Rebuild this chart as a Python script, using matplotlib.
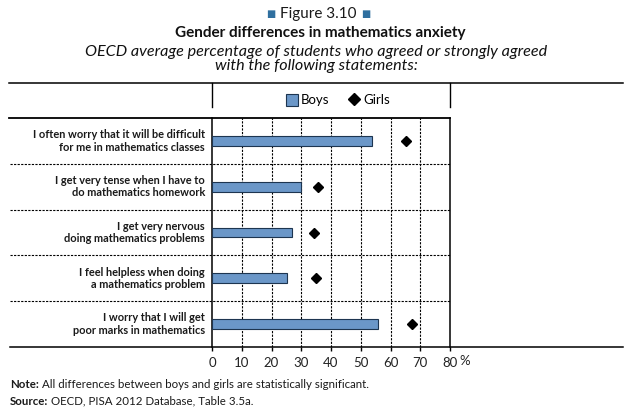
import numpy as np
from matplotlib import pyplot as plt
from matplotlib.lines import Line2D
from matplotlib.patches import Patch
from matplotlib.transforms import blended_transform_factory

plt.rcParams['font.family'] = ['Lato', 'DejaVu Sans']

barColor = "#6b97c8"
edgeColor = "#1d3550"
blueMark = "#2f6f9f"

statements = [
    "I often worry that it will be difficult\nfor me in mathematics classes",
    "I get very tense when I have to\ndo mathematics homework",
    "I get very nervous\ndoing mathematics problems",
    "I feel helpless when doing\na mathematics problem",
    "I worry that I will get\npoor marks in mathematics",
]
boys = [53.8, 29.9, 26.9, 25.2, 55.8]
girls = [65.3, 35.6, 34.3, 35.0, 67.2]
xticks = [0, 10, 20, 30, 40, 50, 60, 70, 80]

W, H = 641, 419
fig = plt.figure(figsize=(W/100, H/100), dpi=100)

def fx(px):
    return px / W

def fy(py):
    return 1 - py / H

ax = fig.add_axes([fx(212), fy(347), fx(450) - fx(212), fy(118) - fy(347)])
y = np.arange(len(statements))
ax.barh(y, boys, height=0.21, color=barColor, edgecolor=edgeColor, linewidth=0.8, zorder=3)
ax.plot(girls, y, linestyle='none', marker='D', markersize=5.5, color='black', zorder=4)

ax.set_xlim(0, 80)
ax.set_ylim(len(statements) - 0.5, -0.5)
ax.set_xticks(xticks)
ax.set_xticklabels([str(t) for t in xticks], fontsize=9.5, color='#222222')
ax.tick_params(axis='x', direction='out', length=3, width=1, pad=4)
ax.set_yticks([])
for t in xticks[1:-1]:
    ax.axvline(t, color='black', linestyle=(0, (2, 1.2)), linewidth=0.8, zorder=1)

for s in ['top', 'bottom']:
    ax.spines[s].set_visible(False)
ax.spines['left'].set_linewidth(1.1)
ax.spines['right'].set_linewidth(1.1)

# row labels (x in figure units, y in data units) and dashed separators
trans = blended_transform_factory(fig.transFigure, ax.transData)
for i, lab in zip(y, statements):
    fig.text(fx(205), i, lab, transform=trans, ha='right', va='center',
             fontsize=7.9, fontweight='bold', color='#1a1a1a', linespacing=1.15)

for k in range(1, len(statements)):
    fig.add_artist(Line2D([fx(10), fx(450)], [k - 0.5, k - 0.5], transform=trans,
                          color='black', linewidth=0.8, linestyle=(0, (2, 1.2))))

# frame lines
fig.add_artist(Line2D([fx(9), fx(623)], [fy(83), fy(83)], color='black', linewidth=1.1))
fig.add_artist(Line2D([fx(9), fx(450)], [fy(118), fy(118)], color='black', linewidth=1.3))
fig.add_artist(Line2D([fx(10), fx(623)], [fy(347), fy(347)], color='black', linewidth=1.1))
fig.add_artist(Line2D([fx(212), fx(212)], [fy(83), fy(107)], color='black', linewidth=1.0))
fig.add_artist(Line2D([fx(450), fx(450)], [fy(83), fy(107)], color='black', linewidth=1.0))

# legend
handles = [Patch(facecolor=barColor, edgecolor=edgeColor, linewidth=0.8, label='Boys'),
           Line2D([], [], linestyle='none', marker='D', markersize=6, color='black', label='Girls')]
fig.legend(handles=handles, loc='center', bbox_to_anchor=(fx(338), fy(100)), ncol=2,
           frameon=False, fontsize=9.5, handlelength=0.9, handletextpad=0.25,
           columnspacing=1.4, handleheight=1.0)

fig.text(fx(465), fy(361), "%", ha='center', va='center', fontsize=9.5, color='#222222')

# titles
fig.text(fx(318), fy(14), "Figure 3.10", ha='center', va='center', fontsize=11, color='#1a1a1a')
fig.text(fx(271), fy(14), "\u25a0", ha='center', va='center', fontsize=7, color=blueMark)
fig.text(fx(366), fy(14), "\u25a0", ha='center', va='center', fontsize=7, color=blueMark)
fig.text(fx(320), fy(33), "Gender differences in mathematics anxiety", ha='center', va='center',
         fontsize=11, fontweight='bold', color='#111111')
fig.text(fx(316), fy(59), "OECD average percentage of students who agreed or strongly agreed\nwith the following statements:",
         ha='center', va='center', fontsize=11.6, style='italic', color='#111111', linespacing=1.0)

# note and source: bold lead-in followed by regular text
fig.canvas.draw()
renderer = fig.canvas.get_renderer()
for py, head, body in [(384, "Note:", "All differences between boys and girls are statistically significant."),
                       (401, "Source:", "OECD, PISA 2012 Database, Table 3.5a.")]:
    h = fig.text(fx(10), fy(py), head, ha='left', va='center', fontsize=8.3,
                 fontweight='bold', color='#1a1a1a')
    bb = h.get_window_extent(renderer)
    fig.text(fx(bb.x1 + 3), fy(py), body, ha='left', va='center', fontsize=8.3, color='#1a1a1a')

plt.savefig("out.png", dpi=100)
